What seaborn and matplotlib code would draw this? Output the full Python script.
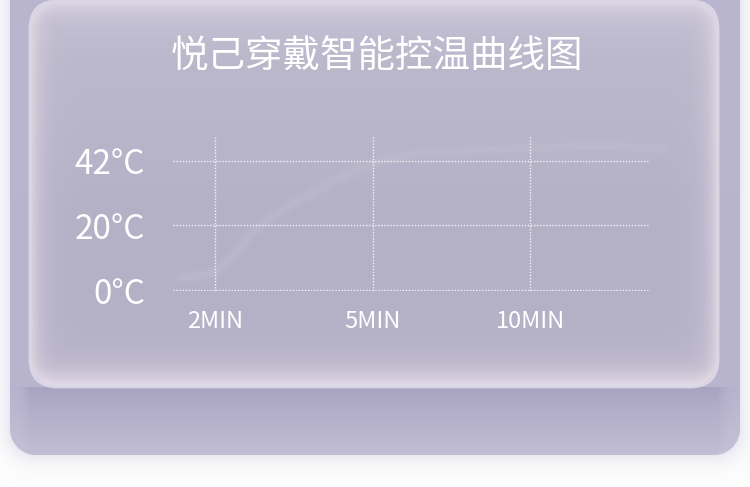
import numpy as np
import matplotlib
matplotlib.use("Agg")
import matplotlib.pyplot as plt
import seaborn as sns
from matplotlib.patches import FancyBboxPatch
from matplotlib.colors import to_rgb

# chart content
title = "悦己穿戴智能控温曲线图"
time_labels = ["2MIN", "5MIN", "10MIN"]
temp_labels = ["0°C", "20°C", "42°C"]
# warming curve (x in tick slots, y in tick slots)
curve_x = [-0.21, -0.10, 0.0, 0.13, 0.22, 0.35, 0.54, 0.73, 0.92, 1.11, 1.37, 1.68, 2.0, 2.32, 2.57, 2.86]
curve_y = [0.20, 0.22, 0.28, 0.55, 0.86, 1.12, 1.40, 1.66, 1.89, 2.05, 2.14, 2.17, 2.20, 2.22, 2.22, 2.18]

W, H = 750, 487

sns.set_style("white")
plt.rcParams["font.family"] = ["Noto Sans CJK SC", "DejaVu Sans"]


def rounded_sdf(xx, yy, x0, y0, x1, y1, r):
    cx, cy = (x0 + x1) / 2, (y0 + y1) / 2
    qx = np.abs(xx - cx) - ((x1 - x0) / 2 - r)
    qy = np.abs(yy - cy) - ((y1 - y0) / 2 - r)
    outside = np.hypot(np.maximum(qx, 0), np.maximum(qy, 0))
    inside = np.minimum(np.maximum(qx, qy), 0)
    return outside + inside - r


def mix(a, b, t):
    t = t[..., None]
    return a * (1 - t) + b * t


def vgrad(yy, stops_y, colors):
    cs = [to_rgb(c) for c in colors]
    return np.stack([np.interp(yy, stops_y, [c[i] for c in cs]) for i in range(3)], axis=-1)


# background picture: card, glass panel, shadows
yy, xx = np.mgrid[0:H, 0:W] + 0.5
img = np.ones((H, W, 3))

outer = (10, -40, 740, 455, 26)
panel = (30, 1, 718, 387, 28)
sd_out = rounded_sdf(xx, yy, *outer)
sd_pan = rounded_sdf(xx, yy, *panel)

# soft shadow round the card
shadow = 0.32 * np.exp(-np.maximum(sd_out, 0) / 11.0)
img = mix(img, np.array(to_rgb("#bdb9d0")), shadow)

# card: light lavender, darker just under the panel
card = vgrad(yy, [0, 387, 455], ["#bbb6d0", "#b9b4ce", "#c6c2d9"])
dx = np.maximum.reduce([30 - xx, xx - 718, np.zeros_like(xx)])
under = (yy > 387) * np.exp(-np.maximum(yy - 389, 0) / 38.0) * np.exp(-dx / 8.0)
card = mix(card, np.array(to_rgb("#a7a1bf")), 0.85 * under)
a_out = np.clip(0.5 - sd_out, 0, 1)
img = mix(img, card, a_out)

# glass panel with light rim glow
d = np.maximum(-sd_pan, 0)
pan = vgrad(yy, [0, 60, 200, 387], ["#c4c0d4", "#bcb8cc", "#b5b1c7", "#b4b0c6"])
pan = mix(pan, np.array(to_rgb("#dcd2e2")), np.exp(-(387 - yy) / 17.0))
pan = mix(pan, np.array(to_rgb("#e7dfe8")), 0.85 * np.exp(-d / 10.0))
a_pan = np.clip(0.5 - sd_pan, 0, 1)
img = mix(img, pan, a_pan)

fig = plt.figure(figsize=(W / 100, H / 100), dpi=100)
bg = fig.add_axes([0, 0, 1, 1])
bg.imshow(img, extent=(0, W, H, 0), interpolation="bilinear")
bg.set_xlim(0, W)
bg.set_ylim(H, 0)
bg.axis("off")
bg.add_patch(FancyBboxPatch((panel[0], panel[1]), panel[2] - panel[0], panel[3] - panel[1],
                            boxstyle="round,pad=0,rounding_size=28", fc="none",
                            ec="#d9d7e6", lw=2))

fig.text(377 / W, 1 - 57 / H, title, color="white", fontsize=27,
         fontweight="light", ha="center", va="center")

# chart area
ax = fig.add_axes([173 / W, 1 - 291 / H, (650 - 173) / W, (291 - 137) / H])
ax.set_facecolor("none")

sns.lineplot(x=curve_x, y=curve_y, ax=ax, sort=False, color="white", alpha=0.035,
             lw=9, solid_capstyle="round")
sns.lineplot(x=curve_x, y=curve_y, ax=ax, sort=False, color="white", alpha=0.05,
             lw=5, solid_capstyle="round")
for ln in ax.lines:
    ln.set_clip_on(False)

ax.set_xlim(-0.267, 2.762)
ax.set_ylim(-0.015, 2.37)
ax.set_xticks(range(len(time_labels)))
ax.set_xticklabels(time_labels)
ax.set_yticks(range(len(temp_labels)))
ax.set_yticklabels(temp_labels)
ax.grid(True, color="white", ls=(0, (1, 1.2)), lw=1, alpha=0.85)
ax.set_axisbelow(False)
for s in ax.spines.values():
    s.set_visible(False)
ax.tick_params(axis="y", length=0, pad=20, labelsize=24, labelcolor="white")
ax.tick_params(axis="x", length=0, pad=14, labelsize=17, labelcolor="white")
for lab in ax.get_xticklabels() + ax.get_yticklabels():
    lab.set_fontweight("light")

fig.savefig("out.png", dpi=100)
